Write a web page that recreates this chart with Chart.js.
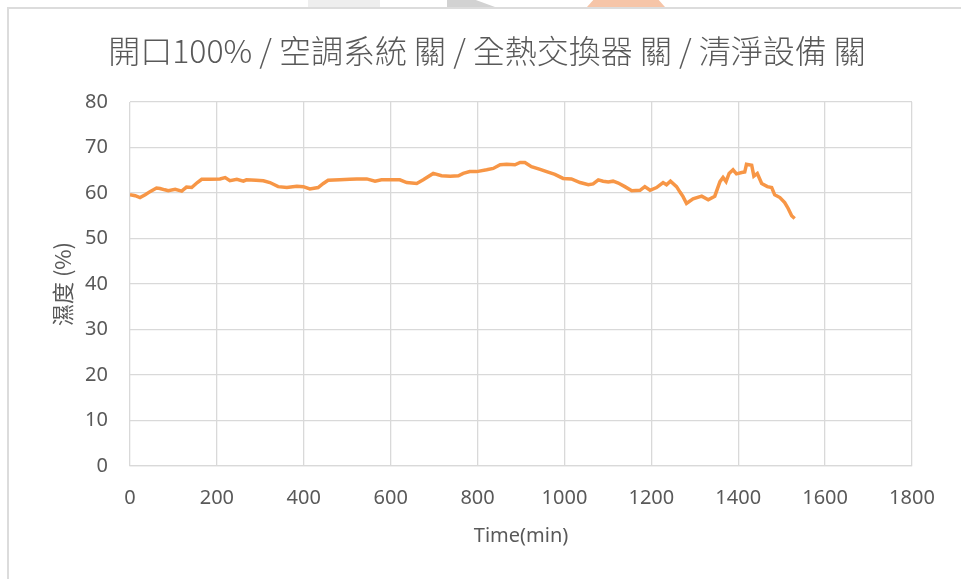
<!DOCTYPE html>
<html>
<head>
<meta charset="utf-8">
<script src="https://cdn.jsdelivr.net/npm/chart.js@4"></script>
<style>
html,body{margin:0;padding:0;background:#fff;}
#wrap{position:relative;width:961px;height:579px;overflow:hidden;}
#frame{position:absolute;left:7px;top:7px;width:1100px;height:700px;border:2px solid #dcdcdc;box-sizing:border-box;}
.mark{position:absolute;top:0;height:7px;}
canvas{position:absolute;left:0;top:0;}
</style>
</head>
<body>
<div id="wrap">
  <div class="mark" style="left:308px;width:72px;background:#eeeeee"></div>
  <div class="mark" style="left:447px;width:48px;background:#d2d2d2;clip-path:polygon(0 0,60% 0,100% 100%,0 100%)"></div>
  <div class="mark" style="left:587px;width:78px;background:#f6c5a8;clip-path:polygon(8% 0,92% 0,100% 100%,0 100%)"></div>
  <div id="frame"></div>
  <canvas id="chart" width="961" height="579"></canvas>
</div>
<script>
// 開口100% / 空調系統 關 / 全熱交換器 關 / 清淨設備 關
const timeMin=[0,12,23,35,46,61,69,80,88,104,119,130,142,155,165,184,207,219,230,246,
  261,268,290,307,322,341,361,384,399,414,433,445,456,483,506,522,545,564,579,600,
  621,637,660,675,698,717,737,756,767,782,798,821,836,852,867,886,898,909,924,944,
  959,978,997,1016,1036,1055,1066,1078,1089,1101,1112,1124,1139,1155,1174,1185,1197,1212,1227,1235,
  1244,1258,1266,1273,1281,1296,1316,1331,1346,1358,1365,1372,1379,1388,1396,1408,1415,1419,1431,1436,
  1444,1454,1467,1477,1484,1496,1507,1515,1523,1530];
const humidity=[59.6,59.4,59.0,59.6,60.3,61.1,61.0,60.7,60.5,60.8,60.4,61.3,61.2,62.3,63.0,63.0,63.1,63.4,62.7,63.0,
  62.6,62.9,62.8,62.7,62.3,61.4,61.2,61.5,61.4,60.9,61.2,62.1,62.8,62.9,63.0,63.1,63.1,62.6,62.9,62.9,
  62.9,62.3,62.1,62.9,64.3,63.8,63.7,63.8,64.3,64.7,64.7,65.1,65.4,66.2,66.3,66.2,66.7,66.7,65.8,65.2,
  64.7,64.1,63.2,63.1,62.3,61.8,62.0,62.9,62.6,62.4,62.6,62.2,61.4,60.5,60.6,61.4,60.6,61.2,62.3,61.8,
  62.6,61.4,60.2,59.2,57.7,58.7,59.3,58.5,59.3,62.5,63.4,62.5,64.3,65.1,64.2,64.5,64.6,66.3,66.1,63.7,
  64.3,62.1,61.4,61.2,59.6,59.0,57.9,56.6,55.0,54.4];
const xTicks=[0,200,400,600,800,1000,1200,1400,1600,1800];
const yTicks=[0,10,20,30,40,50,60,70,80];

const titleText='開口100% / 空調系統 關 / 全熱交換器 關 / 清淨設備 關';
const FONT="'Noto Sans','Noto Sans CJK TC',sans-serif";
const TXT='#595959';
const GRID='#d9d9d9';

const ctx=document.getElementById('chart');
new Chart(ctx,{
  type:'line',
  data:{datasets:[{
    label:'濕度',
    data:timeMin.map((t,i)=>({x:t,y:humidity[i]})),
    borderColor:'#F79646',
    borderWidth:3.5,
    pointRadius:0,
    tension:0,
    fill:false
  }]},
  options:{
    responsive:false,
    animation:false,
    layout:{padding:{left:13,right:0,top:0,bottom:0}},
    plugins:{
      legend:{display:false},
      tooltip:{enabled:false},
      title:{display:true,text:titleText,color:TXT,
        font:{family:"'Noto Sans CJK TC',sans-serif",size:32,weight:'300',lineHeight:1.2},
        padding:{top:32,bottom:31.6}}
    },
    scales:{
      x:{type:'linear',min:0,max:1800,
        afterBuildTicks:s=>{s.ticks=xTicks.map(v=>({value:v}));},
        afterFit:s=>{s.height=113;},
        grid:{color:GRID,lineWidth:1.3,drawTicks:false},
        border:{color:GRID,width:1.3},
        ticks:{color:TXT,padding:20,maxRotation:0,font:{family:FONT,size:20},callback:v=>String(v)},
        title:{display:true,text:'Time(min)',color:TXT,font:{family:FONT,size:20},padding:{top:0,bottom:31}}
      },
      y:{min:0,max:80,
        afterBuildTicks:s=>{s.ticks=yTicks.map(v=>({value:v}));},
        afterFit:s=>{s.width=117;},
        grid:{color:GRID,lineWidth:1.3,drawTicks:false},
        border:{display:false},
        ticks:{color:TXT,padding:22,font:{family:FONT,size:20},callback:v=>String(v)},
        title:{display:true,text:'濕度 (%)',color:TXT,font:{family:"'Noto Sans CJK TC',sans-serif",size:22},padding:{top:36,bottom:0}}
      },
      // empty right-hand strip so the plot ends at 1800 like the reference
      yRight:{position:'right',min:0,max:80,
        afterFit:s=>{s.width=49;},
        grid:{display:false},border:{display:false},ticks:{display:false}
      }
    }
  }
});
</script>
</body>
</html>
